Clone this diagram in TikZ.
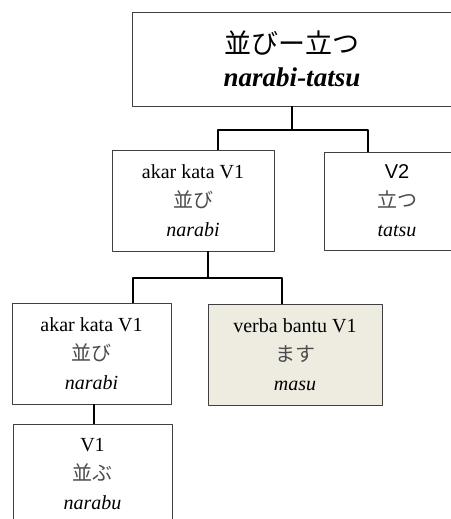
\documentclass[tikz,border=0pt]{standalone}
\usepackage{fontspec}
\setmainfont{Liberation Serif}
\setsansfont{Liberation Sans}
\newfontfamily\jpfont{Noto Sans CJK JP}
\definecolor{bantufill}{RGB}{238,236,225}
\tikzset{
  box/.style={draw=black!75,line width=0.9bp,fill=white,inner sep=0pt,align=center,
    font=\fontsize{20bp}{29bp}\selectfont},
  link/.style={black,line width=1.8bp},
}
\newcommand{\jpgray}[1]{{\jpfont\color{black!70}#1}}
\begin{document}
\begin{tikzpicture}[line join=bevel]
\clip (0bp,0bp) rectangle (451bp,519bp);
%%
\node (node_0) at (292bp,460bp) [box,minimum width=320bp,minimum height=94bp,font=\fontsize{27bp}{33bp}\selectfont] {{\jpfont 並びー立つ}\\\textbf{\textit{narabi-tatsu}}};
  \node (node_1) at (193bp,318.5bp) [box,minimum width=162bp,minimum height=101bp] {akar kata V1\\\jpgray{並び}\\\textit{narabi}};
  \node (node_2) at (397bp,318bp) [box,minimum width=146bp,minimum height=98bp] {\textsf{V2}\\\jpgray{立つ}\\\textit{tatsu}};
  \node (node_3) at (91.5bp,165.5bp) [box,minimum width=159bp,minimum height=101bp] {akar kata V1\\\jpgray{並び}\\\textit{narabi}};
  \node (node_4) at (295bp,164.5bp) [box,fill=bantufill,minimum width=174bp,minimum height=101bp] {verba bantu V1\\\jpgray{ます}\\\textit{masu}};
  \node (node_5) at (92.5bp,44.5bp) [box,minimum width=159bp,minimum height=101bp] {V1\\\jpgray{並ぶ}\\\textit{narabu}};
%
  \coordinate (join_0l) at (218bp,389bp);
  \coordinate (join_0r) at (368bp,389bp);
  \coordinate (join_1) at (208bp,241bp);
  \coordinate (join_1l) at (133bp,241bp);
  \coordinate (join_1r) at (282bp,241bp);
  \coordinate (join_2) at (94bp,105bp);
  \draw [link] (node_0.south) |- (join_0l) -- (join_0l |- node_1.north);
  \draw [link] (node_0.south) |- (join_0r) -- (join_0r |- node_2.north);
  \draw [link] (join_1 |- node_1.south) -- (join_1);
  \draw [link] (join_1l |- node_3.north) |- (join_1r) -- (join_1r |- node_4.north);
  \draw [link] (join_2 |- node_3.south) -- (join_2 |- node_5.north);
%
\end{tikzpicture}
\end{document}
